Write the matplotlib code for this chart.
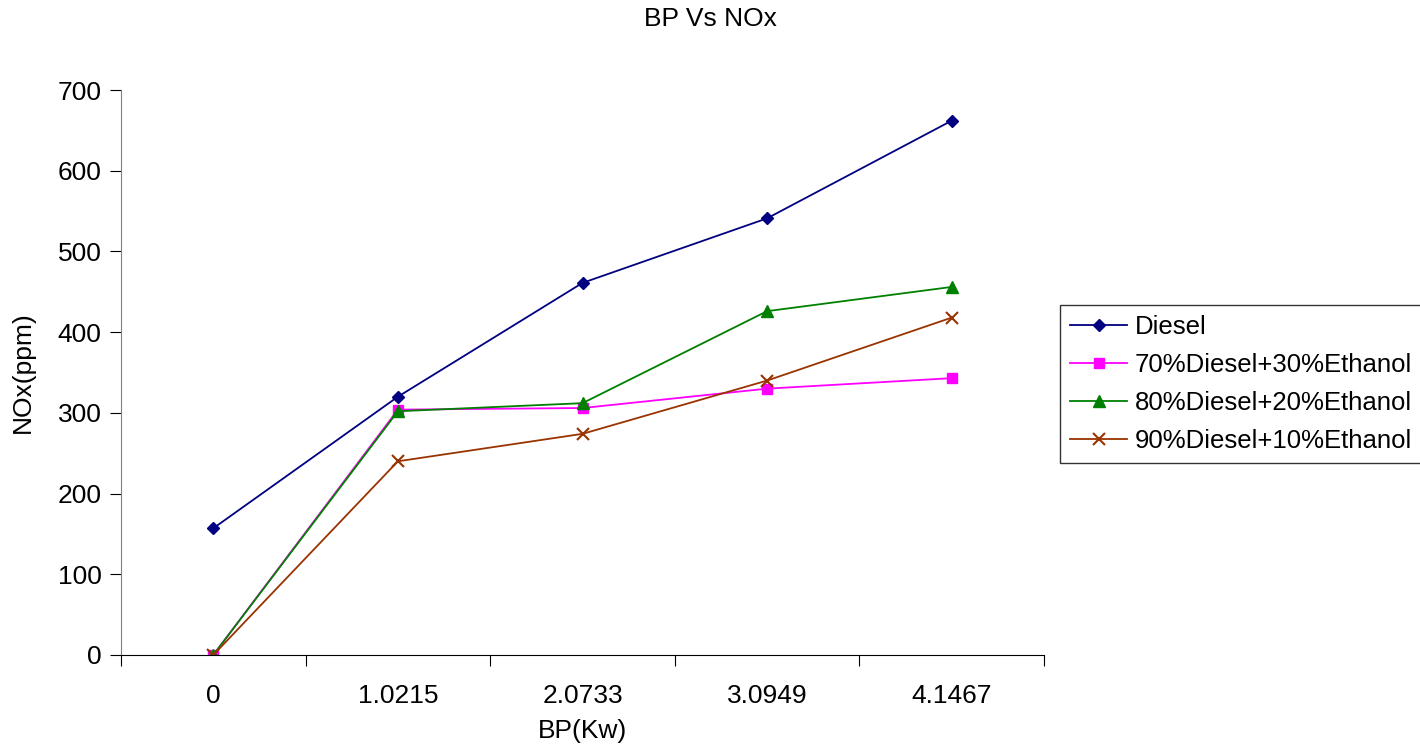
import matplotlib.pyplot as plt

plt.rcParams['font.family'] = ['Liberation Sans', 'DejaVu Sans']

bp_labels = ['0', '1.0215', '2.0733', '3.0949', '4.1467']
diesel = [157, 320, 461, 541, 662]
d70_e30 = [0, 304, 306, 330, 343]
d80_e20 = [0, 302, 312, 426, 456]
d90_e10 = [0, 240, 274, 340, 418]

fig = plt.figure(figsize=(14.2, 7.45), dpi=100)
ax = fig.add_axes([121 / 1420, 1 - 655 / 745, (1044 - 121) / 1420, (655 - 90) / 745])

x = list(range(len(bp_labels)))
ax.plot(x, diesel, color='#000080', marker='D', markersize=6, lw=1.3, label='Diesel')
ax.plot(x, d70_e30, color='#ff00ff', marker='s', markersize=7, lw=1.3, label='70%Diesel+30%Ethanol')
ax.plot(x, d80_e20, color='#008000', marker='^', markersize=8, lw=1.3, label='80%Diesel+20%Ethanol')
ax.plot(x, d90_e10, color='#993300', marker='x', markersize=8, mew=1.5, lw=1.3, label='90%Diesel+10%Ethanol')

ax.set_xlim(-0.5, len(bp_labels) - 0.5)
ax.set_ylim(0, 700)
ax.set_yticks(range(0, 701, 100))
ax.set_xticks([i + 0.5 for i in range(-1, len(bp_labels))], minor=False)
ax.set_xticklabels([])
ax.set_xticks(x, minor=True)
ax.set_xticklabels(bp_labels, minor=True)
ax.tick_params(axis='x', which='minor', length=0, pad=21, labelsize=19)
ax.tick_params(axis='x', which='major', length=8, direction='out')
ax.tick_params(axis='y', length=8, direction='out', labelsize=19, pad=6)

for side in ['top', 'right']:
    ax.spines[side].set_visible(False)
ax.spines['left'].set_color('#808080')

ax.set_xlabel('BP(Kw)', fontsize=19, labelpad=8)
ax.set_ylabel('NOx(ppm)', fontsize=19, labelpad=16)
fig.text(0.5, 1 - 19 / 745, 'BP Vs NOx', ha='center', va='center', fontsize=19)

leg = ax.legend(loc='center left', bbox_to_anchor=(1060 / 1420, 1 - 384 / 745),
                bbox_transform=fig.transFigure, fontsize=18.5, frameon=True, fancybox=False,
                edgecolor='black', borderpad=0.4, labelspacing=0.55, handlelength=2.2,
                handletextpad=0.3, borderaxespad=0)
leg.get_frame().set_linewidth(1.0)

fig.savefig('out.png', dpi=100)
